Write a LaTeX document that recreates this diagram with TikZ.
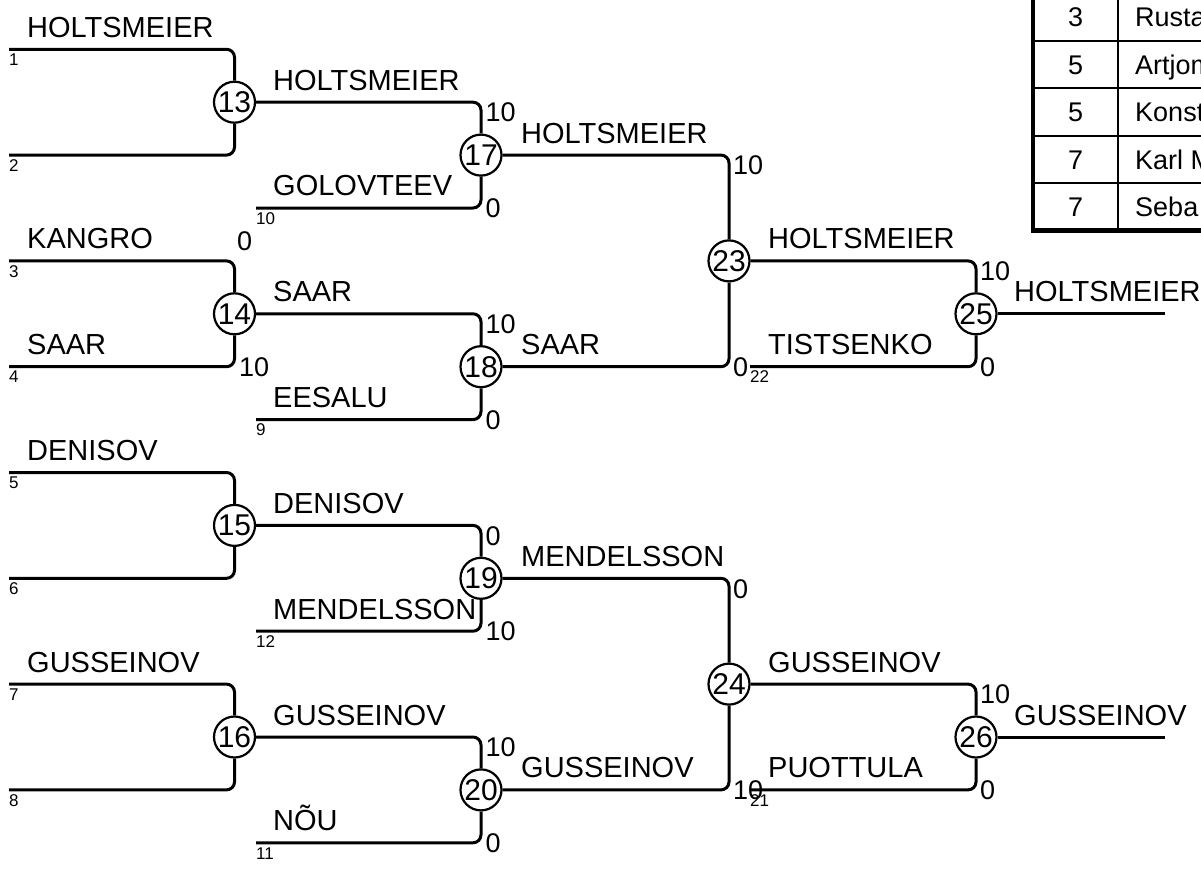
\documentclass[tikz,border=0pt]{standalone}
\usepackage{fontspec}
\setmainfont{Liberation Sans}
\begin{document}
\begin{tikzpicture}[x=1pt,y=-1pt,
  match/.style={circle,draw,line width=2.2pt,minimum size=41pt,inner sep=0pt,fill=white,font=\fontsize{30}{30}\selectfont},
  wire/.style={line width=3pt,rounded corners=8pt},
  pname/.style={anchor=base west,inner sep=0pt,font=\fontsize{29}{29}\selectfont},
  seed/.style={anchor=base west,inner sep=0pt,font=\fontsize{17}{17}\selectfont},
  score/.style={anchor=base west,inner sep=0pt,font=\fontsize{27}{27}\selectfont},
  tnum/.style={anchor=base,inner sep=0pt,font=\fontsize{27}{27}\selectfont},
  ttxt/.style={anchor=base west,inner sep=0pt,font=\fontsize{27}{27}\selectfont},
  thin/.style={line width=2pt},
  thick/.style={line width=4.5pt}]
\useasboundingbox (0,0) rectangle (1201,869);

% match circles
\node[match] (c13) at (234.5,102.2) {13};
\node[match] (c14) at (234.5,313.8) {14};
\node[match] (c15) at (234.5,525.4) {15};
\node[match] (c16) at (234.5,737.0) {16};
\node[match] (c17) at (481,155.1) {17};
\node[match] (c18) at (481,366.7) {18};
\node[match] (c19) at (481,578.3) {19};
\node[match] (c20) at (481,789.9) {20};
\node[match] (c23) at (729,260.9) {23};
\node[match] (c24) at (729,684.1) {24};
\node[match] (c25) at (976,313.8) {25};
\node[match] (c26) at (976,737.0) {26};

% line starts and ends
\coordinate (s1) at (9,49.3);
\coordinate (s2) at (9,155.1);
\coordinate (s3) at (9,260.9);
\coordinate (s4) at (9,366.7);
\coordinate (s5) at (9,472.5);
\coordinate (s6) at (9,578.3);
\coordinate (s7) at (9,684.1);
\coordinate (s8) at (9,789.9);
\coordinate (s10) at (256,208.0);
\coordinate (s9) at (256,419.6);
\coordinate (s12) at (256,631.2);
\coordinate (s11) at (256,842.8);
\coordinate (s22) at (750,366.7);
\coordinate (s21) at (750,789.9);
\coordinate (e25) at (1165,313.8);
\coordinate (e26) at (1165,737.0);

% wires
\draw[wire] (s1) -| (c13.north);
\draw[wire] (s2) -| (c13.south);
\draw[wire] (s3) -| (c14.north);
\draw[wire] (s4) -| (c14.south);
\draw[wire] (s5) -| (c15.north);
\draw[wire] (s6) -| (c15.south);
\draw[wire] (s7) -| (c16.north);
\draw[wire] (s8) -| (c16.south);
\draw[wire] (c13.east) -| (c17.north);
\draw[wire] (s10) -| (c17.south);
\draw[wire] (c14.east) -| (c18.north);
\draw[wire] (s9) -| (c18.south);
\draw[wire] (c15.east) -| (c19.north);
\draw[wire] (s12) -| (c19.south);
\draw[wire] (c16.east) -| (c20.north);
\draw[wire] (s11) -| (c20.south);
\draw[wire] (c17.east) -| (c23.north);
\draw[wire] (c18.east) -| (c23.south);
\draw[wire] (c19.east) -| (c24.north);
\draw[wire] (c20.east) -| (c24.south);
\draw[wire] (c23.east) -| (c25.north);
\draw[wire] (s22) -| (c25.south);
\draw[wire] (c24.east) -| (c26.north);
\draw[wire] (s21) -| (c26.south);
\draw[wire] (c25.east) -- (e25);
\draw[wire] (c26.east) -- (e26);

% names round 1
\node[pname] (n1) at (27,37.3) {HOLTSMEIER};
\node[pname] (n3) at (27,248.9) {KANGRO};
\node[pname] (n4) at (27,354.7) {SAAR};
\node[pname] (n5) at (27,460.5) {DENISOV};
\node[pname] (n7) at (27,672.1) {GUSSEINOV};
% names round 2
\node[pname] (w13) at (273,90.2) {HOLTSMEIER};
\node[pname] (n10) at (273,196) {GOLOVTEEV};
\node[pname] (w14) at (273,301.8) {SAAR};
\node[pname] (n9) at (273,407.6) {EESALU};
\node[pname] (w15) at (273,513.4) {DENISOV};
\node[pname] (n12) at (273,619.2) {MENDELSSON};
\node[pname] (w16) at (273,725) {GUSSEINOV};
\node[pname] (n11) at (273,830.8) {NÕU};
% names round 3
\node[pname] (w17) at (521,143.1) {HOLTSMEIER};
\node[pname] (w18) at (521,354.7) {SAAR};
\node[pname] (w19) at (521,566.3) {MENDELSSON};
\node[pname] (w20) at (521,777.9) {GUSSEINOV};
% names round 4
\node[pname] (w23) at (768,248.9) {HOLTSMEIER};
\node[pname] (n22) at (768,354.7) {TISTSENKO};
\node[pname] (w24) at (768,672.1) {GUSSEINOV};
\node[pname] (n21) at (768,777.9) {PUOTTULA};
% winners
\node[pname] (w25) at (1014,301.8) {HOLTSMEIER};
\node[pname] (w26) at (1014,725) {GUSSEINOV};

% seeds
\node[seed] (d1) at (9,65.5) {1};
\node[seed] (d2) at (9,171.3) {2};
\node[seed] (d3) at (9,277.1) {3};
\node[seed] (d4) at (9,382.9) {4};
\node[seed] (d5) at (9,488.7) {5};
\node[seed] (d6) at (9,594.5) {6};
\node[seed] (d7) at (9,700.3) {7};
\node[seed] (d8) at (9,806.1) {8};
\node[seed] (d10) at (256,224.2) {10};
\node[seed] (d9) at (256,435.8) {9};
\node[seed] (d12) at (256,647.4) {12};
\node[seed] (d11) at (256,859) {11};
\node[seed] (d22) at (750,382.9) {22};
\node[seed] (d21) at (750,806.1) {21};

% scores
\node[score] (r14a) at (237,250) {0};
\node[score] (r14b) at (239,376.4) {10};
\node[score] (r17a) at (485.5,122) {10};
\node[score] (r17b) at (485.5,217.7) {0};
\node[score] (r18a) at (485.5,333.6) {10};
\node[score] (r18b) at (485.5,429.3) {0};
\node[score] (r19a) at (485.5,545.2) {0};
\node[score] (r19b) at (485.5,640.9) {10};
\node[score] (r20a) at (485.5,756.8) {10};
\node[score] (r20b) at (485.5,852.5) {0};
\node[score] (r23a) at (733,174.9) {10};
\node[score] (r23b) at (733,376.4) {0};
\node[score] (r24a) at (733,598.1) {0};
\node[score] (r24b) at (733,799.6) {10};
\node[score] (r25a) at (980,280.7) {10};
\node[score] (r25b) at (980,376.4) {0};
\node[score] (r26a) at (980,703.9) {10};
\node[score] (r26b) at (980,799.6) {0};

% table (cut by the picture edge)
\begin{scope}
\clip (0,0) rectangle (1201,869);
\foreach \yy in {41.1,88.45,135.8,183.15} \draw[thin] (1033,\yy) -- (1215,\yy);
\draw[thin] (1118,-10) -- (1118,230.5);
\draw[thick] (1033,-10) -- (1033,232.75);
\draw[thick] (1030.75,230.5) -- (1215,230.5);
\node[tnum] (t1) at (1075.5,27) {3};
\node[tnum] (t2) at (1075.5,74.4) {5};
\node[tnum] (t3) at (1075.5,121.7) {5};
\node[tnum] (t4) at (1075.5,169.1) {7};
\node[tnum] (t5) at (1075.5,216.4) {7};
\node[ttxt] (u1) at (1135,27) {Rusta};
\node[ttxt] (u2) at (1135,74.4) {Artjom};
\node[ttxt] (u3) at (1135,121.7) {Konst};
\node[ttxt] (u4) at (1135,169.1) {Karl M};
\node[ttxt] (u5) at (1135,216.4) {Seba};
\end{scope}
\end{tikzpicture}
\end{document}
